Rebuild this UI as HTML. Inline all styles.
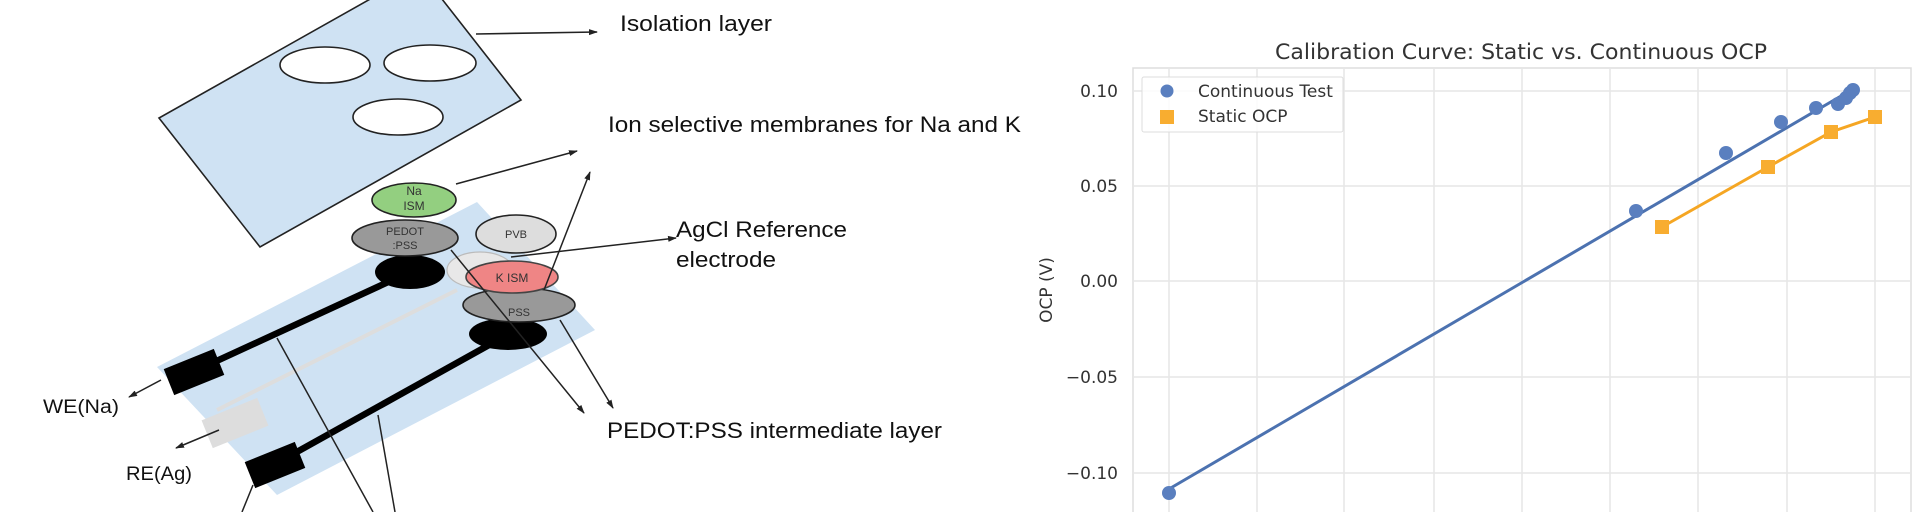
<!DOCTYPE html>
<html><head><meta charset="utf-8"><style>html,body{margin:0;padding:0;background:#fff}svg{display:block}</style></head>
<body>
<svg width="1920" height="512" viewBox="0 0 1920 512" xmlns="http://www.w3.org/2000/svg">
<defs>
<marker id="ah" markerWidth="9" markerHeight="8" refX="8" refY="4" orient="auto" markerUnits="userSpaceOnUse"><path d="M0,1 L9,4 L0,7 z" fill="#222"/></marker>
</defs>
<rect width="1920" height="512" fill="#fff"/>
<!-- Left diagram -->
<g font-family="Liberation Sans, sans-serif">
<polygon points="159,118 260,247 521,100 420,-29" fill="#cfe2f3" stroke="#222" stroke-width="1.6"/>
<ellipse cx="325" cy="65" rx="45" ry="18" fill="#fff" stroke="#222" stroke-width="1.6"/>
<ellipse cx="430" cy="63" rx="46" ry="18" fill="#fff" stroke="#222" stroke-width="1.6"/>
<ellipse cx="398" cy="117" rx="45" ry="18" fill="#fff" stroke="#222" stroke-width="1.6"/>
<line x1="476" y1="34" x2="597" y2="32" stroke="#222" stroke-width="1.6" marker-end="url(#ah)"/>
<text x="620" y="31" font-size="22" fill="#111" textLength="152" lengthAdjust="spacingAndGlyphs">Isolation layer</text>
<text x="608" y="132" font-size="22" fill="#111" textLength="413" lengthAdjust="spacingAndGlyphs">Ion selective membranes for Na and K</text>

<polygon points="157,367 277,495 595,330 477,202" fill="#cfe2f3"/>
<line x1="217" y1="410" x2="457" y2="290" stroke="#ddd" stroke-width="4"/>
<rect x="205" y="408" width="60" height="30" fill="#ddd" transform="rotate(-22 235 423)"/>
<line x1="410" y1="272" x2="197" y2="370" stroke="#000" stroke-width="6.5"/>
<line x1="507" y1="335" x2="277" y2="463" stroke="#000" stroke-width="6.5"/>
<rect x="167" y="358" width="54" height="28" fill="#000" transform="rotate(-22 194 372)"/>
<rect x="248" y="451" width="54" height="28" fill="#000" transform="rotate(-22 275 465)"/>

<ellipse cx="414" cy="200" rx="42" ry="17" fill="#93cf80" stroke="#222" stroke-width="1.6"/>
<text x="414" y="195" font-size="12" fill="#333" text-anchor="middle">Na</text>
<text x="414" y="210" font-size="12" fill="#333" text-anchor="middle">ISM</text>
<ellipse cx="410" cy="272" rx="35" ry="17" fill="#000"/>
<ellipse cx="405" cy="238" rx="53" ry="18" fill="#999" stroke="#222" stroke-width="1.6"/>
<text x="405" y="235" font-size="11" fill="#333" text-anchor="middle">PEDOT</text>
<text x="405" y="249" font-size="11" fill="#333" text-anchor="middle">:PSS</text>
<ellipse cx="516" cy="234" rx="40" ry="19" fill="#ddd" stroke="#222" stroke-width="1.6"/>
<text x="516" y="238" font-size="11" fill="#333" text-anchor="middle">PVB</text>
<ellipse cx="480" cy="270" rx="33" ry="18" fill="#e8e8e8" stroke="#bbb" stroke-width="1.2"/>
<ellipse cx="508" cy="334" rx="39" ry="16" fill="#000"/>
<ellipse cx="519" cy="305" rx="56" ry="17" fill="#999" stroke="#222" stroke-width="1.6"/>
<ellipse cx="512" cy="277" rx="46" ry="16" fill="#ef8585" stroke="#444" stroke-width="1.6"/>
<text x="512" y="282" font-size="12" fill="#333" text-anchor="middle">K ISM</text>
<text x="519" y="316" font-size="11" fill="#333" text-anchor="middle">PSS</text>

<line x1="456" y1="184" x2="577" y2="151" stroke="#222" stroke-width="1.5" marker-end="url(#ah)"/>
<line x1="544" y1="290" x2="590" y2="172" stroke="#222" stroke-width="1.5" marker-end="url(#ah)"/>
<line x1="511" y1="257" x2="676" y2="238" stroke="#222" stroke-width="1.5" marker-end="url(#ah)"/>
<line x1="451" y1="250" x2="584" y2="413" stroke="#222" stroke-width="1.5" marker-end="url(#ah)"/>
<line x1="560" y1="320" x2="613" y2="408" stroke="#222" stroke-width="1.5" marker-end="url(#ah)"/>
<line x1="161" y1="380" x2="129" y2="397" stroke="#222" stroke-width="1.5" marker-end="url(#ah)"/>
<line x1="219" y1="430" x2="176" y2="448" stroke="#222" stroke-width="1.5" marker-end="url(#ah)"/>
<line x1="253" y1="485" x2="242" y2="512" stroke="#222" stroke-width="1.5"/>
<line x1="277" y1="338" x2="373" y2="512" stroke="#222" stroke-width="1.5"/>
<line x1="378" y1="415" x2="395" y2="512" stroke="#222" stroke-width="1.5"/>

<text x="676" y="237" font-size="22" fill="#111" textLength="171" lengthAdjust="spacingAndGlyphs">AgCl Reference</text>
<text x="676" y="267" font-size="22" fill="#111" textLength="100" lengthAdjust="spacingAndGlyphs">electrode</text>
<text x="607" y="438" font-size="22" fill="#111" textLength="335" lengthAdjust="spacingAndGlyphs">PEDOT:PSS intermediate layer</text>
<text x="43" y="413" font-size="19" fill="#111" textLength="76" lengthAdjust="spacingAndGlyphs">WE(Na)</text>
<text x="126" y="480" font-size="19" fill="#111" textLength="66" lengthAdjust="spacingAndGlyphs">RE(Ag)</text>
</g>

<!-- Chart -->
<g font-family="DejaVu Sans, sans-serif" fill="#333">
<rect x="1133" y="68" width="778" height="460" fill="#fff" stroke="#ddd" stroke-width="1.5"/>
<g stroke="#e6e6e6" stroke-width="1.5">
<line x1="1169" y1="68" x2="1169" y2="512"/><line x1="1257" y1="68" x2="1257" y2="512"/>
<line x1="1344" y1="68" x2="1344" y2="512"/><line x1="1434" y1="68" x2="1434" y2="512"/>
<line x1="1522" y1="68" x2="1522" y2="512"/><line x1="1610" y1="68" x2="1610" y2="512"/>
<line x1="1698" y1="68" x2="1698" y2="512"/><line x1="1787" y1="68" x2="1787" y2="512"/>
<line x1="1875" y1="68" x2="1875" y2="512"/>
<line x1="1133" y1="91" x2="1911" y2="91"/><line x1="1133" y1="186" x2="1911" y2="186"/>
<line x1="1133" y1="281" x2="1911" y2="281"/><line x1="1133" y1="377" x2="1911" y2="377"/>
<line x1="1133" y1="473" x2="1911" y2="473"/>
</g>
<g font-size="17" text-anchor="end">
<text x="1118" y="97">0.10</text><text x="1118" y="192">0.05</text>
<text x="1118" y="287">0.00</text><text x="1118" y="383">−0.05</text>
<text x="1118" y="479">−0.10</text>
</g>
<text transform="translate(1052,290) rotate(-90)" font-size="17" text-anchor="middle">OCP (V)</text>
<text x="1275" y="59" font-size="21" textLength="492" lengthAdjust="spacingAndGlyphs">Calibration Curve: Static vs. Continuous OCP</text>

<line x1="1169" y1="489" x2="1853" y2="89" stroke="#4c72b0" stroke-width="3"/>
<g fill="#5a7fbf">
<circle cx="1169" cy="493" r="7"/><circle cx="1636" cy="211" r="7"/><circle cx="1726" cy="153" r="7"/>
<circle cx="1781" cy="122" r="7"/><circle cx="1816" cy="108" r="7"/><circle cx="1838" cy="104" r="7"/>
<circle cx="1846" cy="98" r="7"/><circle cx="1850" cy="93" r="7"/><circle cx="1853" cy="90" r="7"/>
</g>
<polyline points="1662,227 1768,167 1831,132 1875,117" fill="none" stroke="#f5a623" stroke-width="3"/>
<g fill="#f8ad30">
<rect x="1655" y="220" width="14" height="14"/><rect x="1761" y="160" width="14" height="14"/>
<rect x="1824" y="125" width="14" height="14"/><rect x="1868" y="110" width="14" height="14"/>
</g>
<rect x="1142" y="77" width="201" height="55" fill="#fff" fill-opacity="0.85" stroke="#ddd" stroke-width="1" rx="2"/>
<circle cx="1167" cy="91" r="6.5" fill="#5a7fbf"/>
<rect x="1160" y="110" width="14" height="14" fill="#f8ad30"/>
<text x="1198" y="97" font-size="17">Continuous Test</text>
<text x="1198" y="122" font-size="17">Static OCP</text>
</g>
</svg>
</body></html>
